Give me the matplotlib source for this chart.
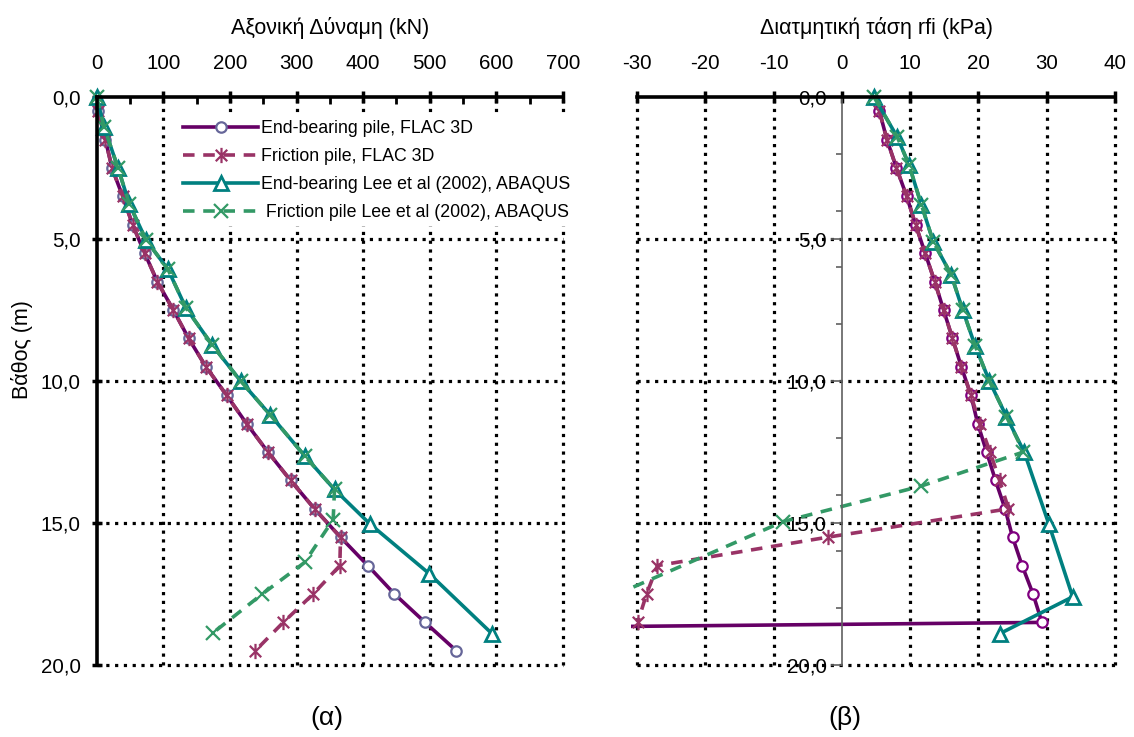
import matplotlib
matplotlib.use("Agg")
import matplotlib.pyplot as plt
from matplotlib.path import Path
from matplotlib.patches import Rectangle
from matplotlib.ticker import MultipleLocator, FixedLocator, FuncFormatter

plt.rcParams.update({
    "font.family": ["Liberation Sans", "DejaVu Sans"],
    "font.size": 14.8,
    "axes.unicode_minus": False,
})

# ---- (α) axial force vs depth ----
depth_flac = [0.5, 1.5, 2.5, 3.5, 4.5, 5.5, 6.5, 7.5, 8.5, 9.5,
              10.5, 11.5, 12.5, 13.5, 14.5, 15.5, 16.5, 17.5, 18.5, 19.5]
force_eb_flac = [2, 13, 23, 39, 54, 72, 91, 115, 138, 164,
                 195, 225, 257, 291, 327, 366, 407, 447, 493, 540]
force_fr_flac = [2, 13, 23, 39, 54, 72, 91, 115, 138, 164,
                 195, 225, 257, 291, 327, 366, 365, 325, 280, 238]

depth_eb_lee_a = [0, 1.05, 2.5, 3.77, 5.03, 6.07, 7.43, 8.72, 10.0,
                  11.18, 12.63, 13.82, 15.03, 16.78, 18.91]
force_eb_lee = [0, 11, 32, 49, 74, 107, 134, 173, 216,
                260, 312, 357, 410, 499, 594]
depth_fr_lee_a = [0, 1.05, 2.5, 3.77, 5.03, 6.07, 7.43, 8.72, 10.0,
                  11.18, 12.63, 13.82, 14.88, 16.39, 17.51, 18.88]
force_fr_lee = [0, 11, 32, 49, 74, 107, 134, 173, 216,
                260, 312, 357, 355, 312, 248, 174]

# ---- (β) shear stress vs depth ----
shear_eb_flac = [5.5, 6.6, 8.0, 9.5, 10.8, 12.2, 13.6, 14.9, 16.2, 17.5,
                 18.9, 19.9, 21.2, 22.5, 23.9, 25.0, 26.4, 28.0, 29.3, -400]
depth_fr_flac_b = [0.5, 1.5, 2.5, 3.5, 4.5, 5.5, 6.5, 7.5, 8.5, 9.5,
                   10.5, 11.5, 12.5, 13.5, 14.5, 15.5, 16.5, 17.5, 18.5]
shear_fr_flac = [5.5, 6.6, 8.0, 9.5, 10.8, 12.2, 13.6, 14.9, 16.2, 17.5,
                 18.9, 20.2, 21.7, 23.1, 24.4, -2.1, -27.0, -28.6, -29.9]

depth_eb_lee_b = [0, 1.4, 2.4, 3.8, 5.1, 6.25, 7.5, 8.75, 10.0,
                  11.25, 12.5, 15.03, 17.6, 18.9]
shear_eb_lee = [4.7, 8.1, 9.85, 11.65, 13.4, 16.0, 17.7, 19.5, 21.6,
                24.1, 26.7, 30.3, 33.8, 23.1]
depth_fr_lee_b = [0, 1.4, 2.4, 3.8, 5.1, 6.25, 7.5, 8.75, 10.0,
                  11.25, 12.5, 13.7, 14.95, 18.25]
shear_fr_lee = [4.7, 8.1, 9.85, 11.65, 13.4, 16.0, 17.7, 19.5, 21.6,
                24.1, 26.6, 11.6, -8.6, -40]

labels = ["End-bearing pile, FLAC 3D",
          "Friction pile, FLAC 3D",
          "End-bearing Lee et al (2002), ABAQUS",
          " Friction pile Lee et al (2002), ABAQUS"]

x_ticks_a = [0, 100, 200, 300, 400, 500, 600, 700]
x_ticks_b = [-30, -20, -10, 0, 10, 20, 30, 40]
y_ticks = [0, 5, 10, 15, 20]

PURPLE = "#660066"
PLUM = "#993366"
TEAL = "#008080"
SEA = "#339966"

# excel-style asterisk: x plus a vertical bar
ASTER = Path([(0, -1), (0, 1), (-0.75, -0.75), (0.75, 0.75), (-0.75, 0.75), (0.75, -0.75)],
             [Path.MOVETO, Path.LINETO] * 3)

LW = 2.6
DASH = (0, (3.2, 2.4))
GRID = dict(color="black", linestyle=(0, (1.0, 1.75)), linewidth=2.3, zorder=0.5,
            clip_on=False)

comma = FuncFormatter(lambda v, p: f"{v:.1f}".replace(".", ","))

fig = plt.figure(figsize=(11.34, 7.37), dpi=100)
ax1 = fig.add_axes([96.7 / 1134, 1 - 665 / 737, 466.3 / 1134, 568 / 737])
ax2 = fig.add_axes([637 / 1134, 1 - 665 / 737, 478 / 1134, 568 / 737])

# ---------- panel α ----------
ax1.plot(force_eb_flac, depth_flac, color=PURPLE, lw=LW, marker="o", ms=7.5,
         mfc="white", mec="#666699", mew=1.6, label=labels[0], clip_on=False)
ax1.plot(force_fr_flac, depth_flac, color=PLUM, lw=LW, ls=DASH, marker=ASTER, ms=11,
         mec=PLUM, mew=1.6, label=labels[1], clip_on=False)
ax1.plot(force_eb_lee, depth_eb_lee_a, color=TEAL, lw=LW, marker="^", ms=9.5,
         mfc="white", mec=TEAL, mew=2.0, label=labels[2], clip_on=False)
ax1.plot(force_fr_lee, depth_fr_lee_a, color=SEA, lw=LW, ls=DASH, marker="x", ms=10,
         mec=SEA, mew=1.6, label=labels[3], clip_on=False)

ax1.set_xlim(0, 700)
ax1.set_ylim(20, 0)
for v in x_ticks_a[1:]:
    ax1.axvline(v, **GRID)
for v in y_ticks[1:]:
    ax1.axhline(v, **GRID)

ax1.xaxis.tick_top()
ax1.xaxis.set_label_position("top")
ax1.xaxis.set_major_locator(FixedLocator(x_ticks_a))
ax1.xaxis.set_minor_locator(MultipleLocator(50))
ax1.yaxis.set_major_locator(FixedLocator(y_ticks))
ax1.yaxis.set_major_formatter(comma)
ax1.tick_params(axis="x", which="major", direction="inout", length=9, width=2.5, pad=13)
ax1.tick_params(axis="x", which="minor", direction="in", length=5, width=2)
ax1.tick_params(axis="y", which="major", direction="inout", length=7, width=2.5, pad=8)
for s in ("right", "bottom"):
    ax1.spines[s].set_visible(False)
for s in ("top", "left"):
    ax1.spines[s].set_linewidth(2.6)
ax1.set_xlabel("Αξονική Δύναμη (kN)", labelpad=14, fontsize=15.5)

leg = ax1.legend(loc="upper left", bbox_to_anchor=(0.155, 0.985), fontsize=12.8,
                 handlelength=4.2, handletextpad=0.2, labelspacing=0.62,
                 borderpad=0.3, numpoints=1, frameon=True, fancybox=False,
                 framealpha=1, facecolor="white", edgecolor="none")
leg.set_zorder(5)

# ---------- panel β ----------
clip = Rectangle((-0.012, -0.03), 1.03, 1.06, transform=ax2.transAxes)
series_b = [
    ax2.plot(shear_eb_flac, depth_flac, color=PURPLE, lw=LW, marker="o", ms=7.5,
             mfc="white", mec="#800080", mew=1.6),
    ax2.plot(shear_fr_flac, depth_fr_flac_b, color=PLUM, lw=LW, ls=DASH, marker=ASTER,
             ms=11, mec=PLUM, mew=1.6),
    ax2.plot(shear_eb_lee, depth_eb_lee_b, color=TEAL, lw=LW, marker="^", ms=9.5,
             mfc="white", mec=TEAL, mew=2.0),
    ax2.plot(shear_fr_lee, depth_fr_lee_b, color=SEA, lw=LW, ls=DASH, marker="x", ms=10,
             mec=SEA, mew=1.6),
]
for lines in series_b:
    for ln in lines:
        ln.set_clip_path(clip)

ax2.set_xlim(-30, 40)
ax2.set_ylim(20, 0)
for v in x_ticks_b:
    if v != 0:
        ax2.axvline(v, **GRID)
for v in y_ticks[1:]:
    ax2.axhline(v, **GRID)

ax2.xaxis.tick_top()
ax2.xaxis.set_label_position("top")
ax2.xaxis.set_major_locator(FixedLocator(x_ticks_b))
ax2.yaxis.set_major_locator(FixedLocator(y_ticks))
ax2.yaxis.set_minor_locator(MultipleLocator(2))
ax2.yaxis.set_major_formatter(comma)
ax2.tick_params(axis="x", which="major", direction="inout", length=9, width=2.5, pad=13)
ax2.tick_params(axis="y", which="major", direction="out", length=8, width=1.2,
                color="#606060", pad=3)
ax2.tick_params(axis="y", which="minor", direction="out", length=4, width=1.2,
                color="#606060")
for s in ("right", "bottom"):
    ax2.spines[s].set_visible(False)
ax2.spines["top"].set_linewidth(2.6)
ax2.spines["left"].set_position(("data", 0))
ax2.spines["left"].set_color("#606060")
ax2.spines["left"].set_linewidth(1.2)
ax2.set_xlabel("Διατμητική τάση rfi (kPa)", labelpad=14, fontsize=15.5)

fig.text(22 / 1134, 1 - 350 / 737, "Βάθος (m)", rotation=90, ha="center", va="center",
         fontsize=15.5)
fig.text(327 / 1134, 1 - 718 / 737, "(α)", ha="center", va="center", fontsize=19)
fig.text(845 / 1134, 1 - 718 / 737, "(β)", ha="center", va="center", fontsize=19)

fig.savefig("out.png", dpi=100)
